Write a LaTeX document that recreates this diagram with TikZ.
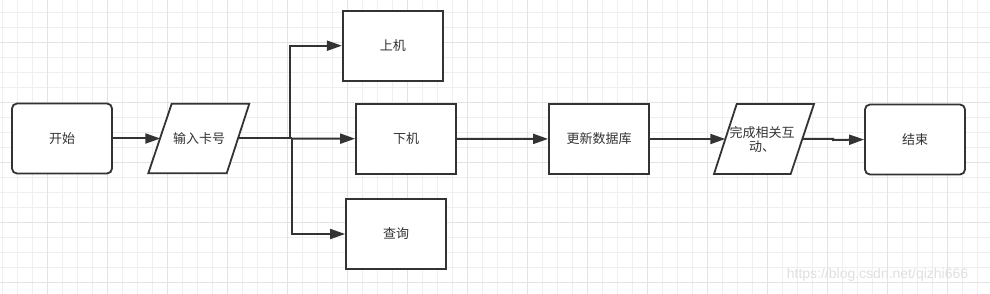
\documentclass[tikz,border=0pt]{standalone}
\usepackage{fontspec}
\setmainfont{Noto Sans CJK SC}
\newfontfamily\wmfont{Liberation Sans}
\usetikzlibrary{arrows.meta,calc}
\definecolor{ink}{HTML}{333333}
\definecolor{gridminor}{HTML}{EFEFEF}
\definecolor{gridmajor}{HTML}{E3E3E3}
\definecolor{wm}{HTML}{E0E0E0}
\tikzset{
  box/.style={draw=ink, line width=1.8pt, minimum width=100pt, minimum height=70pt, inner sep=0pt, text=ink, font=\fontsize{13pt}{14pt}\selectfont, fill=white},
  roundbox/.style={box, rounded corners=5pt},
  iotext/.style={minimum width=77pt, minimum height=70pt, inner sep=0pt, align=center, text=ink, font=\fontsize{13pt}{14pt}\selectfont},
  ioshape/.style={draw=ink, line width=1.8pt, fill=white, line join=miter},
  conn/.style={draw=ink, line width=2pt, -{Triangle[length=15pt,width=10pt]}},
  plain/.style={draw=ink, line width=2pt}
}
\begin{document}
\begin{tikzpicture}[x=1pt,y=-1pt]
\useasboundingbox (0,0) rectangle (990,294);
\fill[white] (0,0) rectangle (990,294);
% grid
\foreach \i in {0,...,66} {\draw[gridminor, line width=0.8pt] (2.3+15*\i,0) -- (2.3+15*\i,294);}
\foreach \j in {0,...,19} {\draw[gridminor, line width=0.8pt] (0,12.3+15*\j) -- (990,12.3+15*\j);}
\foreach \i in {0,...,16} {\draw[gridmajor, line width=0.8pt] (47.3+60*\i,0) -- (47.3+60*\i,294);}
\foreach \j in {0,...,4} {\draw[gridmajor, line width=0.8pt] (0,42.3+60*\j) -- (990,42.3+60*\j);}
% watermark
\node[text=wm, font=\wmfont\fontsize{14pt}{16pt}\selectfont, anchor=center] (wm) at (877.5,274.5) {https://blog.csdn.net/qizhi666};
% parallelogram outlines
\path[ioshape] (148.3,173.3) -- (171.7,103.7) -- (249.3,103.7) -- (226.7,173.3) -- cycle;
\path[ioshape] (714,174) -- (736.7,104) -- (814,104) -- (790.7,174) -- cycle;
% nodes
\node[roundbox] (start) at (62,138.5) {开始};
\node[iotext] (input) at (199,138.5) {输入卡号};
\node[box] (up) at (392.8,45.7) {上机};
\node[box] (down) at (406,138.7) {下机};
\node[box] (query) at (396,234) {查询};
\node[box] (db) at (599,139) {更新数据库};
\node[iotext] (done) at (764,139) {};
\node[text=ink, font=\fontsize{13pt}{14pt}\selectfont, align=center, inner sep=0pt] (donet) at (762,139.5) {完成相关互\\动、};
\node[roundbox] (end) at (915,139.5) {结束};
% connectors
\coordinate (j1) at (289.5,138.5);
\coordinate (j2) at (291.5,138.5);
\draw[conn] (start) -- (input);
\draw[plain] (input.east) -- (j2);
\draw[conn] (j1) |- (up.west);
\draw[conn] (j2) |- (query.west);
\draw[conn] (j2) -- (down.west);
\draw[conn] (down) -- (db);
\draw[conn] (db) -- (done);
\draw[conn] (done.east) -- (833,139) -- (833,140) -- (end.west);
\end{tikzpicture}
\end{document}
